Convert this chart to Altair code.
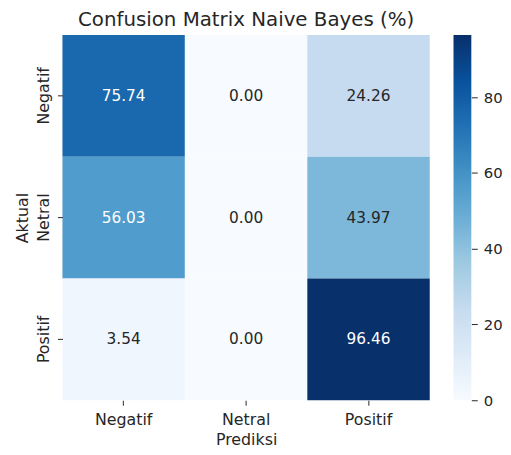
import altair as alt
import pandas as pd

actual = ["Negatif", "Netral", "Positif"]
predicted = ["Negatif", "Netral", "Positif"]
values = [
    [75.74, 0.00, 24.26],
    [56.03, 0.00, 43.97],
    [3.54, 0.00, 96.46],
]
colorbar_ticks = [0, 20, 40, 60, 80]
blues = ["#f7fbff", "#deebf7", "#c6dbef", "#9ecae1", "#6baed6",
         "#4292c6", "#2171b5", "#08519c", "#08306b"]

FONT = "DejaVu Sans"
DARK = "#262626"

rows = []
for i, a in enumerate(actual):
    for j, p in enumerate(predicted):
        rows.append({"Aktual": a, "Prediksi": p, "v": values[i][j]})
df = pd.DataFrame(rows)

vmin = min(min(r) for r in values)
vmax = max(max(r) for r in values)
n = len(blues)
domain = [vmin + (vmax - vmin) * k / (n - 1) for k in range(n)]

color_scale = alt.Scale(domain=domain, range=blues, interpolate="rgb")

base = alt.Chart(df).encode(
    x=alt.X("Prediksi:N", sort=predicted, title="Prediksi",
            scale=alt.Scale(paddingInner=0, paddingOuter=0),
            axis=alt.Axis(labelAngle=0, domain=False, tickSize=5, tickColor=DARK,
                          labelPadding=6, titlePadding=5)),
    y=alt.Y("Aktual:N", sort=actual, title="Aktual",
            scale=alt.Scale(paddingInner=0, paddingOuter=0),
            axis=alt.Axis(labelAngle=-90, labelAlign="center", labelBaseline="bottom",
                          domain=False, tickSize=5, tickColor=DARK,
                          labelPadding=6, titlePadding=5)),
)

rects = base.mark_rect(stroke=None).encode(
    color=alt.Color("v:Q", scale=color_scale, legend=None)
)
texts = base.mark_text(font=FONT, fontSize=15.5).encode(
    text=alt.Text("v:Q", format=".2f"),
    color=alt.condition("datum.v > 50", alt.value("#ffffff"), alt.value(DARK)),
)

heat = (rects + texts).properties(
    width=371, height=369,
    title=alt.TitleParams("Confusion Matrix Naive Bayes (%)", fontSize=20,
                          font=FONT, fontWeight="normal", color=DARK,
                          anchor="middle", offset=5),
)

cb_df = pd.DataFrame({"lo": [vmin], "hi": [vmax]})
gradient = alt.LinearGradient(
    gradient="linear",
    stops=[alt.GradientStop(offset=k / (n - 1), color=c) for k, c in enumerate(blues)],
    x1=0, x2=0, y1=1, y2=0,
)
colorbar = alt.Chart(cb_df).mark_rect(color=gradient).encode(
    y=alt.Y("lo:Q", scale=alt.Scale(domain=[vmin, vmax], nice=False, zero=False),
            axis=alt.Axis(orient="right", values=colorbar_ticks, domain=False, grid=False,
                          tickSize=6, tickColor=DARK, labelPadding=6, labelFontSize=15,
                          title=None)),
    y2="hi:Q",
).properties(
    width=18, height=369,
    title=alt.TitleParams(" ", fontSize=20, font=FONT, offset=5),
)

chart = alt.hconcat(heat, colorbar, spacing=24).properties(
    padding={"left": 7, "top": 0, "right": 0, "bottom": 0},
).configure_view(stroke=None).configure_axis(
    labelFont=FONT, titleFont=FONT, labelFontSize=16, titleFontSize=16,
    labelColor=DARK, titleColor=DARK, titleFontWeight="normal",
)

chart.save("out.html", embed_options={"renderer": "svg", "actions": False})
